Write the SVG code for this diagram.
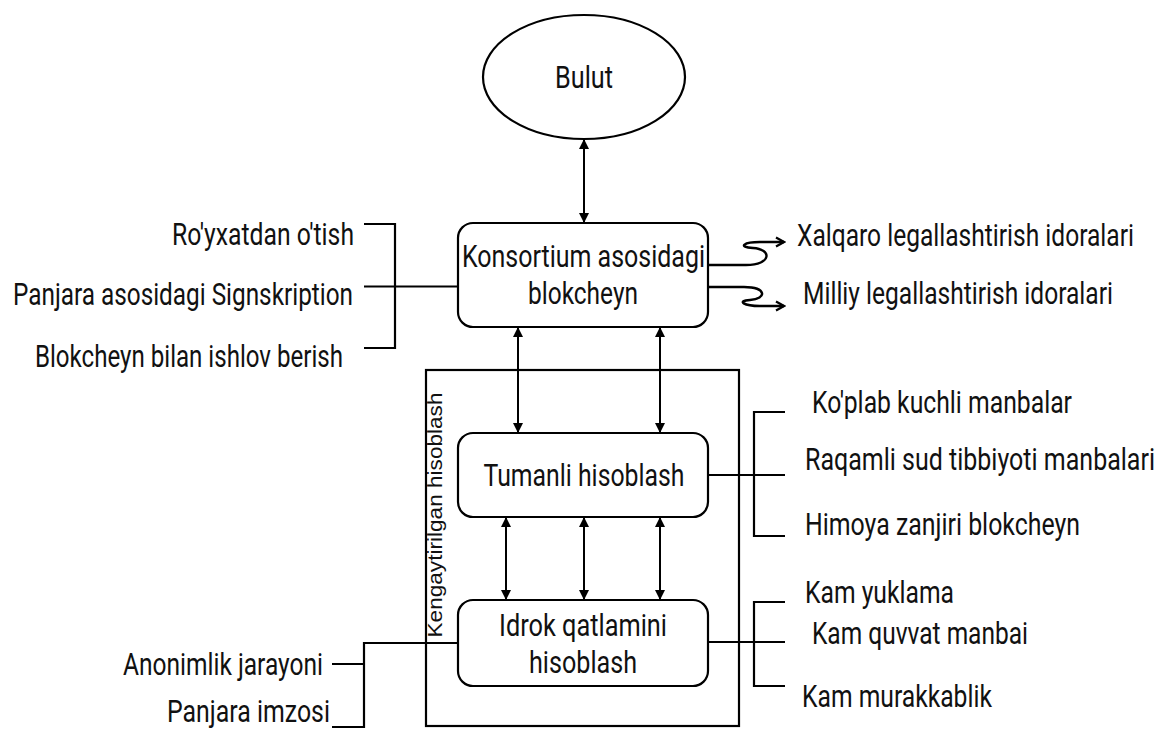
<svg xmlns="http://www.w3.org/2000/svg" width="1160" height="731" viewBox="0 0 1160 731">
<style>
.bg{fill:#fff}
.box{fill:#fff;stroke:#000;stroke-width:2.2}
.ln{fill:none;stroke:#000;stroke-width:2.2}
.ar{fill:none;stroke:#000;stroke-width:2;marker-start:url(#ah);marker-end:url(#ah)}
.arr{fill:none;stroke:#000;stroke-width:2.4;marker-end:url(#oa)}
text{font-family:Roboto,"Liberation Sans",sans-serif;font-size:31px;fill:#111}
.lab{font-family:"Liberation Sans",Arial,sans-serif;font-size:20px}
</style>
<defs>
<marker id="ah" viewBox="0 0 10 10" refX="9" refY="5" markerWidth="5.5" markerHeight="5" orient="auto-start-reverse" markerUnits="strokeWidth">
<path d="M0,0 L10,5 L0,10 z" fill="#000"/>
</marker>
<marker id="oa" viewBox="0 0 12 12" refX="10" refY="6" markerWidth="5" markerHeight="5" orient="auto" markerUnits="strokeWidth">
<path d="M2,1.5 L10,6 L2,10.5" fill="none" stroke="#000" stroke-width="2.2"/>
</marker>
</defs>
<rect class="bg" x="0" y="0" width="1160" height="731"/>

<g id="container">
<rect class="ln" x="426" y="370" width="313" height="356"/>
<text class="lab" transform="translate(442,515) rotate(-90)" text-anchor="middle" textLength="245" lengthAdjust="spacingAndGlyphs">Kengaytirilgan hisoblash</text>
</g>

<g id="connectors">
<line class="ar" x1="584" y1="140" x2="584" y2="222"/>
<line class="ar" x1="518" y1="328" x2="518" y2="432"/>
<line class="ar" x1="660" y1="328" x2="660" y2="432"/>
<line class="ar" x1="506" y1="518" x2="506" y2="599"/>
<line class="ar" x1="584" y1="518" x2="584" y2="599"/>
<line class="ar" x1="660" y1="518" x2="660" y2="599"/>
<path class="arr" d="M708,265 L746,265 C772,265 772,249 753,248 C737,247 744,242 760,242 L784,242"/>
<path class="arr" d="M708,287 L744,287 C767,287 767,299 750,300 C736,301 744,306 760,306 L784,306"/>
<path class="ln" d="M364,224 H395 V348 H364 M364,286.5 H458"/>
<path class="ln" d="M708,475 H754 M785,412 H754 V536 H785 M754,475 H785"/>
<path class="ln" d="M708,642 H754 M785,602 H754 V686 H785 M754,642 H785"/>
<path class="ln" d="M458,643 H364 V727 H332 M332,664 H364"/>
</g>

<g id="bulut">
<ellipse class="box" cx="584" cy="77" rx="101" ry="62"/>
<text x="584" y="88" text-anchor="middle" textLength="58" lengthAdjust="spacingAndGlyphs">Bulut</text>
</g>

<g id="konsortium">
<rect class="box" x="458" y="223" width="250" height="104" rx="15"/>
<text x="583.5" y="267" text-anchor="middle" textLength="243" lengthAdjust="spacingAndGlyphs">Konsortium asosidagi</text>
<text x="583" y="304" text-anchor="middle" textLength="110" lengthAdjust="spacingAndGlyphs">blokcheyn</text>
</g>

<g id="tumanli">
<rect class="box" x="458" y="433" width="250" height="84" rx="15"/>
<text x="584" y="486" text-anchor="middle" textLength="201" lengthAdjust="spacingAndGlyphs">Tumanli hisoblash</text>
</g>

<g id="idrok">
<rect class="box" x="458" y="600" width="250" height="86" rx="15"/>
<text x="583" y="636" text-anchor="middle" textLength="168" lengthAdjust="spacingAndGlyphs">Idrok qatlamini</text>
<text x="583" y="673" text-anchor="middle" textLength="108" lengthAdjust="spacingAndGlyphs">hisoblash</text>
</g>

<g id="left-top">
<text x="172" y="245" textLength="182" lengthAdjust="spacingAndGlyphs">Ro'yxatdan o'tish</text>
<text x="13" y="305" textLength="340" lengthAdjust="spacingAndGlyphs">Panjara asosidagi Signskription</text>
<text x="35" y="367" textLength="308" lengthAdjust="spacingAndGlyphs">Blokcheyn bilan ishlov berish</text>
</g>

<g id="right-top" transform="scale(0.75,1)">
<text x="1062.67" y="246" textLength="449.33" lengthAdjust="spacingAndGlyphs">Xalqaro legallashtirish idoralari</text>
<text x="1070.67" y="304" textLength="413.33" lengthAdjust="spacingAndGlyphs">Milliy legallashtirish idoralari</text>
</g>

<g id="right-mid" transform="scale(0.75,1)">
<text x="1082.67" y="413" textLength="346.67" lengthAdjust="spacingAndGlyphs">Ko'plab kuchli manbalar</text>
<text x="1073.33" y="470" textLength="466.67" lengthAdjust="spacingAndGlyphs">Raqamli sud tibbiyoti manbalari</text>
<text x="1073.33" y="535" textLength="366.67" lengthAdjust="spacingAndGlyphs">Himoya zanjiri blokcheyn</text>
</g>

<g id="right-bottom" transform="scale(0.75,1)">
<text x="1073.33" y="603" textLength="198.67" lengthAdjust="spacingAndGlyphs">Kam yuklama</text>
<text x="1082.67" y="644" textLength="288" lengthAdjust="spacingAndGlyphs">Kam quvvat manbai</text>
<text x="1069.33" y="707" textLength="253.33" lengthAdjust="spacingAndGlyphs">Kam murakkablik</text>
</g>

<g id="left-bottom">
<text x="123" y="675" textLength="200" lengthAdjust="spacingAndGlyphs">Anonimlik jarayoni</text>
<text x="167" y="722" textLength="163" lengthAdjust="spacingAndGlyphs">Panjara imzosi</text>
</g>
</svg>
